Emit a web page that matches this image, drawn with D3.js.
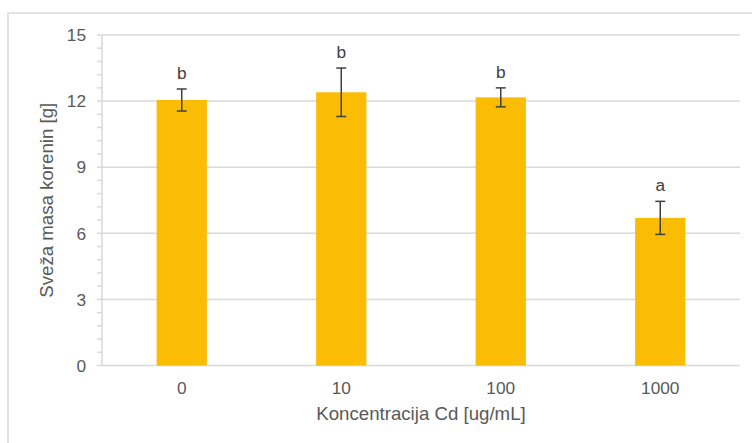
<!DOCTYPE html>
<html>
<head>
<meta charset="utf-8">
<script src="https://cdn.jsdelivr.net/npm/d3@7"></script>
<style>
  html, body { margin: 0; padding: 0; background: #fff; }
  svg { display: block; }
  text { font-family: "Liberation Sans", Arial, sans-serif; fill: #595959; }
</style>
</head>
<body>
<script>
const categories = ["0", "10", "100", "1000"];
const values = [12.05, 12.4, 12.17, 6.7];
const errors = [0.5, 1.1, 0.43, 0.75];
const letters = ["b", "b", "b", "a"];
const yTicks = [0, 3, 6, 9, 12, 15];
const xTitle = "Koncentracija Cd [ug/mL]";
const yTitle = "Sveža masa korenin [g]";

const W = 752, H = 443;
const svg = d3.select("body").append("svg").attr("width", W).attr("height", H);

// outer chart border
svg.append("rect")
  .attr("x", 8).attr("y", 13).attr("width", 780).attr("height", 460)
  .attr("fill", "none").attr("stroke", "#d9d9d9").attr("stroke-width", 1.5);

const mLeft = 102, mRight = 740, mTop = 35, mBottom = 365.5;

const x = d3.scaleBand().domain(categories).range([mLeft, mRight]).padding(0);
const y = d3.scaleLinear().domain([0, 15]).range([mBottom, mTop]);

// gridlines
svg.append("g").selectAll("line").data(yTicks.filter(d => d > 0)).join("line")
  .attr("x1", mLeft).attr("x2", mRight)
  .attr("y1", d => y(d)).attr("y2", d => y(d))
  .attr("stroke", "#d9d9d9").attr("stroke-width", 1.5);

// y axis with minor ticks
const minorTicks = d3.range(0, 15.001, 0.6);
const yAxis = svg.append("g").attr("transform", `translate(${mLeft},0)`);
yAxis.append("line").attr("x1", 0).attr("x2", 0).attr("y1", y(0)).attr("y2", y(15))
  .attr("stroke", "#d9d9d9").attr("stroke-width", 1.5);
yAxis.selectAll("line.minor").data(minorTicks).join("line").attr("class", "minor")
  .attr("x1", -5).attr("x2", 0)
  .attr("y1", d => y(d)).attr("y2", d => y(d))
  .attr("stroke", "#d9d9d9").attr("stroke-width", 1.5);
yAxis.selectAll("text").data(yTicks).join("text")
  .attr("x", -16).attr("y", d => y(d)).attr("dy", "0.36em")
  .attr("text-anchor", "end").style("font-size", "17.3px")
  .text(d => d);

// x axis
svg.append("line").attr("x1", mLeft).attr("x2", mRight).attr("y1", y(0)).attr("y2", y(0))
  .attr("stroke", "#d9d9d9").attr("stroke-width", 1.5);
svg.append("g").selectAll("text").data(categories).join("text")
  .attr("x", d => x(d) + x.bandwidth() / 2).attr("y", 394)
  .attr("text-anchor", "middle").style("font-size", "17.3px")
  .text(d => d);

// bars
const bw = x.bandwidth() * 0.315;
const data = categories.map((c, i) => ({ c, v: values[i], e: errors[i], l: letters[i] }));
svg.append("g").selectAll("rect").data(data).join("rect")
  .attr("x", d => x(d.c) + x.bandwidth() / 2 - bw / 2)
  .attr("y", d => y(d.v))
  .attr("width", bw)
  .attr("height", d => y(0) - y(d.v))
  .attr("fill", "#FBBC04");

// error bars
const eg = svg.append("g").attr("stroke", "#404040").attr("stroke-width", 1.5);
data.forEach(d => {
  const cx = x(d.c) + x.bandwidth() / 2;
  eg.append("line").attr("x1", cx).attr("x2", cx).attr("y1", y(d.v + d.e)).attr("y2", y(d.v - d.e));
  eg.append("line").attr("x1", cx - 5).attr("x2", cx + 5).attr("y1", y(d.v + d.e)).attr("y2", y(d.v + d.e));
  eg.append("line").attr("x1", cx - 5).attr("x2", cx + 5).attr("y1", y(d.v - d.e)).attr("y2", y(d.v - d.e));
});

// significance letters
svg.append("g").selectAll("text").data(data).join("text")
  .attr("x", d => x(d.c) + x.bandwidth() / 2)
  .attr("y", d => y(d.v + d.e) - 10)
  .attr("text-anchor", "middle").style("font-size", "17.3px").style("fill", "#404040")
  .text(d => d.l);

// axis titles
svg.append("text").attr("x", (mLeft + mRight) / 2).attr("y", 420)
  .attr("text-anchor", "middle").style("font-size", "18.67px").text(xTitle);
svg.append("text")
  .attr("transform", `translate(53,${(mTop + mBottom) / 2}) rotate(-90)`)
  .attr("text-anchor", "middle").style("font-size", "18.67px").text(yTitle);
</script>
</body>
</html>
